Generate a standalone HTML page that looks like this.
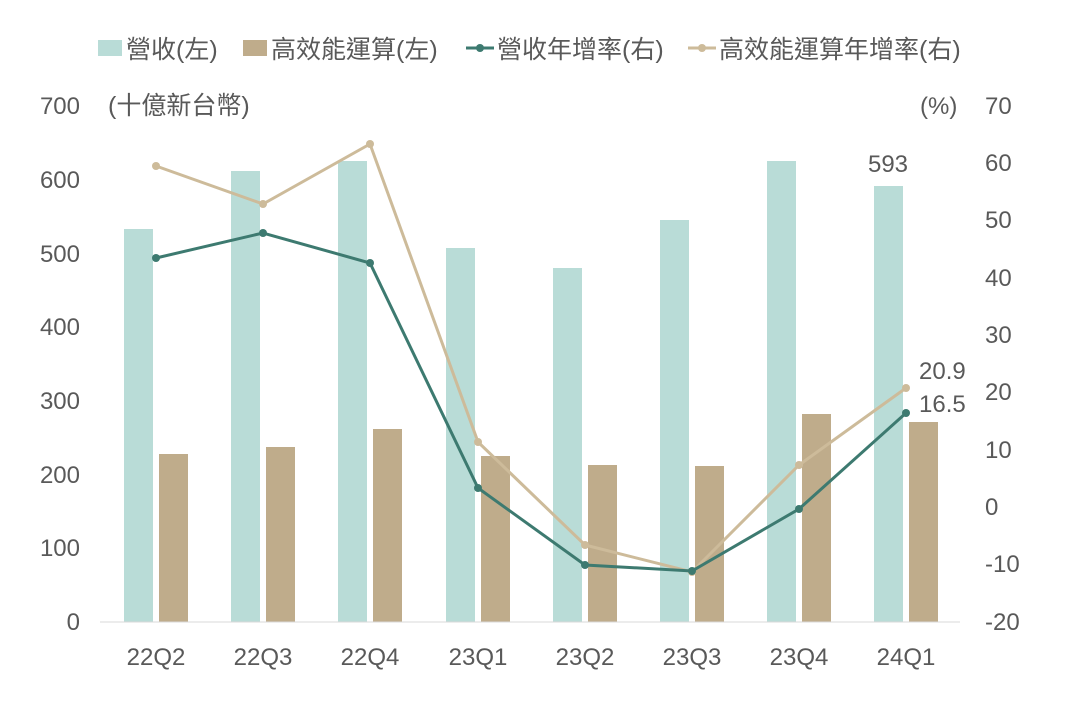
<!DOCTYPE html>
<html><head><meta charset="utf-8"><style>
body{margin:0;background:#fff;}
text{font-family:"Liberation Sans","Noto Sans CJK TC",sans-serif;fill:#595959;}
</style></head><body>
<svg width="1077" height="718" viewBox="0 0 1077 718" xmlns="http://www.w3.org/2000/svg">
<rect width="1077" height="718" fill="#fff"/>
<!-- legend -->
<rect x="98" y="40" width="24" height="16" fill="#b9dcd7"/>
<text x="126" y="58" font-size="25">營收(左)</text>
<rect x="243" y="40" width="24" height="16" fill="#bfac8b"/>
<text x="271" y="58" font-size="25">高效能運算(左)</text>
<line x1="466" y1="48" x2="494" y2="48" stroke="#3d7a70" stroke-width="3"/>
<circle cx="480" cy="48" r="4" fill="#3d7a70"/>
<text x="497" y="58" font-size="25">營收年增率(右)</text>
<line x1="688" y1="48" x2="716" y2="48" stroke="#cdbb9a" stroke-width="3"/>
<circle cx="702" cy="48" r="4" fill="#cdbb9a"/>
<text x="719" y="58" font-size="25">高效能運算年增率(右)</text>
<!-- units -->
<text x="108" y="114" font-size="25">(十億新台幣)</text>
<text x="920" y="114" font-size="24">(%)</text>
<!-- left axis -->
<g font-size="24" text-anchor="end">
<text x="80" y="114">700</text><text x="80" y="188">600</text><text x="80" y="262">500</text>
<text x="80" y="335">400</text><text x="80" y="409">300</text><text x="80" y="483">200</text>
<text x="80" y="556">100</text><text x="80" y="630">0</text>
</g>
<g font-size="24" text-anchor="start">
<text x="985" y="114">70</text><text x="985" y="171">60</text><text x="985" y="228">50</text>
<text x="985" y="286">40</text><text x="985" y="343">30</text><text x="985" y="400">20</text>
<text x="985" y="458">10</text><text x="985" y="515">0</text><text x="985" y="572">-10</text>
<text x="985" y="630">-20</text>
</g>
<!-- bars -->
<g fill="#b9dcd7">
<rect x="124" y="229" width="29" height="393"/>
<rect x="231" y="171" width="29" height="451"/>
<rect x="338" y="161" width="29" height="461"/>
<rect x="446" y="248" width="29" height="374"/>
<rect x="553" y="268" width="29" height="354"/>
<rect x="660" y="220" width="29" height="402"/>
<rect x="767" y="161" width="29" height="461"/>
<rect x="874" y="186" width="29" height="436"/>
</g>
<g fill="#bfac8b">
<rect x="159" y="454" width="29" height="168"/>
<rect x="266" y="447" width="29" height="175"/>
<rect x="373" y="429" width="29" height="193"/>
<rect x="481" y="456" width="29" height="166"/>
<rect x="588" y="465" width="29" height="157"/>
<rect x="695" y="466" width="29" height="156"/>
<rect x="802" y="414" width="29" height="208"/>
<rect x="909" y="422" width="29" height="200"/>
</g>
<line x1="100" y1="622" x2="960" y2="622" stroke="#d9d9d9" stroke-width="1"/>
<!-- lines -->
<polyline points="156,166 263,204 370,144 478,442 585,545 692,572 799,465 906,388" fill="none" stroke="#cdbb9a" stroke-width="3"/>
<g fill="#cdbb9a"><circle cx="156" cy="166" r="4"/><circle cx="263" cy="204" r="4"/><circle cx="370" cy="144" r="4"/><circle cx="478" cy="442" r="4"/><circle cx="585" cy="545" r="4"/><circle cx="692" cy="572" r="4"/><circle cx="799" cy="465" r="4"/><circle cx="906" cy="388" r="4"/></g>
<polyline points="156,258 263,233 370,263 478,488 585,565 692,571 799,509 906,413" fill="none" stroke="#3d7a70" stroke-width="3"/>
<g fill="#3d7a70"><circle cx="156" cy="258" r="4"/><circle cx="263" cy="233" r="4"/><circle cx="370" cy="263" r="4"/><circle cx="478" cy="488" r="4"/><circle cx="585" cy="565" r="4"/><circle cx="692" cy="571" r="4"/><circle cx="799" cy="509" r="4"/><circle cx="906" cy="413" r="4"/></g>
<!-- data labels -->
<text x="888" y="172" font-size="24" text-anchor="middle">593</text>
<text x="919" y="379" font-size="24">20.9</text>
<text x="919" y="412" font-size="24">16.5</text>
<!-- categories -->
<g font-size="24" text-anchor="middle">
<text x="156" y="665">22Q2</text><text x="263" y="665">22Q3</text><text x="370" y="665">22Q4</text>
<text x="478" y="665">23Q1</text><text x="585" y="665">23Q2</text><text x="692" y="665">23Q3</text>
<text x="799" y="665">23Q4</text><text x="906" y="665">24Q1</text>
</g>
</svg>
</body></html>
